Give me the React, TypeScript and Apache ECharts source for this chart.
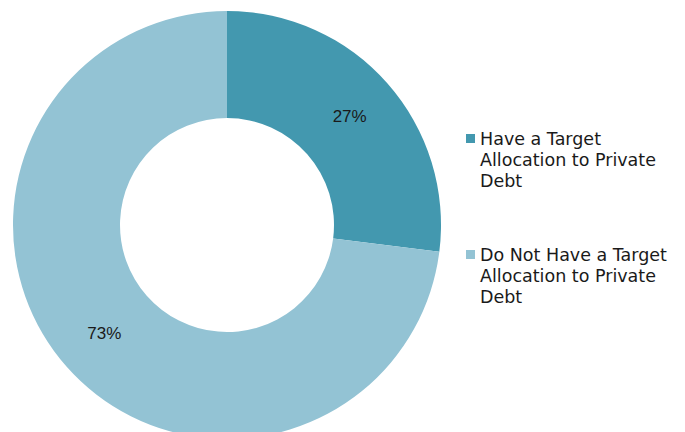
import React, { useEffect, useRef } from "react";
import * as echarts from "echarts";

const categories = [
  "Have a Target Allocation to Private Debt",
  "Do Not Have a Target Allocation to Private Debt",
];
const legendLines = [
  ["Have a Target", "Allocation to Private", "Debt"],
  ["Do Not Have a Target", "Allocation to Private", "Debt"],
];
const values = [27, 73];
const colors = ["#4398AF", "#93C3D4"];

export default function App() {
  const ref = useRef<HTMLDivElement>(null);
  useEffect(() => {
    if (!ref.current) return;
    const chart = echarts.init(ref.current, undefined, { renderer: "svg" });
    chart.setOption({
      animation: false,
      color: colors,
      legend: {
        orient: "vertical",
        left: 466,
        top: 86,
        padding: 0,
        itemGap: 11,
        itemWidth: 9,
        itemHeight: 9,
        icon: "rect",
        selectedMode: false,
        formatter: (name: string) => {
          const i = categories.indexOf(name);
          // two blank lines on top so the first text line sits level with the marker
          return "\n\n" + legendLines[i].join("\n");
        },
        textStyle: {
          fontFamily: "DejaVu Sans",
          fontSize: 17.5,
          lineHeight: 21,
          color: "#1a1a1a",
        },
        data: categories,
      },
      series: [
        {
          type: "pie",
          center: [227, 225],
          radius: [107, 214],
          startAngle: 90,
          clockwise: true,
          silent: true,
          label: {
            show: true,
            position: "inside",
            formatter: "{d}%",
            fontFamily: "Liberation Sans",
            fontSize: 17,
            color: "#1a1a1a",
          },
          labelLine: { show: false },
          data: categories.map((c, i) => ({ name: c, value: values[i] })),
        },
      ],
    });
    return () => chart.dispose();
  }, []);
  return (
    <div
      ref={ref}
      style={{ position: "fixed", left: 0, top: 0, width: 685, height: 432, background: "#fff" }}
    />
  );
}
